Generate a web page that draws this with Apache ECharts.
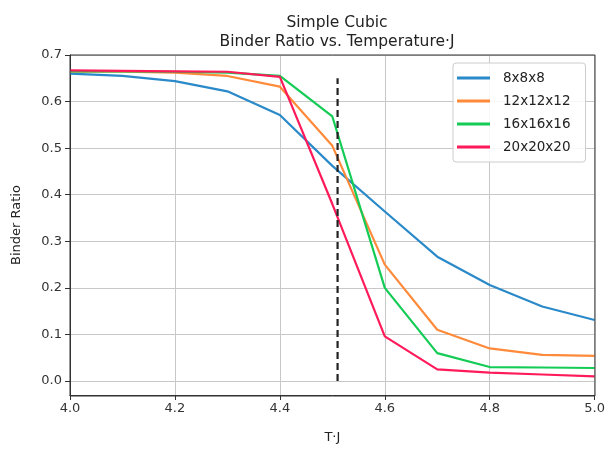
<!DOCTYPE html>
<html><head><meta charset="utf-8">
<script src="https://cdn.jsdelivr.net/npm/echarts@6/dist/echarts.min.js"></script>
<style>html,body{margin:0;padding:0;background:#fff}#c{width:608px;height:449px}</style>
</head><body><div id="c"></div>
<script>
const temps = [4.0, 4.1, 4.2, 4.3, 4.4, 4.5, 4.6, 4.7, 4.8, 4.9, 5.0];
const seriesNames = ['8x8x8', '12x12x12', '16x16x16', '20x20x20'];
const ratio8 = [0.660, 0.655, 0.644, 0.622, 0.571, 0.462, 0.364, 0.267, 0.206, 0.160, 0.131];
const ratio12 = [0.664, 0.664, 0.662, 0.655, 0.632, 0.505, 0.250, 0.110, 0.070, 0.056, 0.054];
const ratio16 = [0.665, 0.665, 0.664, 0.662, 0.655, 0.568, 0.200, 0.060, 0.030, 0.029, 0.028];
const ratio20 = [0.667, 0.666, 0.665, 0.664, 0.653, 0.380, 0.096, 0.025, 0.018, 0.014, 0.010];
const criticalT = 4.51;
const criticalRange = [0, 0.65];
const yTicks = [0, 0.1, 0.2, 0.3, 0.4, 0.5, 0.6, 0.7];
const xTicks = [4.0, 4.2, 4.4, 4.6, 4.8, 5.0];

const colors = ['#2a89c8', '#ff8a3a', '#14cc55', '#ff1a5a'];
const allRatios = [ratio8, ratio12, ratio16, ratio20];
const font = 'DejaVu Sans';

const series = allRatios.map((arr, i) => ({
  name: seriesNames[i], type: 'line', symbol: 'none', z: 3,
  data: temps.map((t, j) => [t, arr[j]]),
  lineStyle: {width: 2.2, color: colors[i]}, itemStyle: {color: colors[i]}
}));
series.push({
  name: 'Tc', type: 'line', symbol: 'none', z: 4,
  data: criticalRange.map(v => [criticalT, v]),
  lineStyle: {width: 2.2, color: '#222', type: [7, 4]}
});

const chart = echarts.init(document.getElementById('c'), null, {renderer: 'canvas'});
chart.setOption({
  animation: false,
  backgroundColor: '#fff',
  title: {
    text: 'Simple Cubic\nBinder Ratio vs. Temperature·J',
    left: 332, top: 8, textAlign: 'center',
    textStyle: {fontFamily: font, fontSize: 15.5, fontWeight: 'normal', color: '#222', lineHeight: 19}
  },
  legend: {
    data: seriesNames.map(n => ({name: n, icon: 'rect'})), orient: 'vertical', left: 453, top: 63,
    itemWidth: 33, itemHeight: 3, itemGap: 9,
    padding: [8, 15, 8, 4],
    borderColor: '#ccc', borderWidth: 1, borderRadius: 3,
    backgroundColor: 'rgba(255,255,255,0.85)',
    textStyle: {fontFamily: font, fontSize: 13.5, color: '#222', padding: [0, 0, 0, 8], height: 13}
  },
  grid: {left: 70, right: 13, top: 55, bottom: 53, show: false},
  xAxis: {
    type: 'value', min: 4.0, max: 5.0, interval: 0.2,
    name: 'T·J', nameLocation: 'middle', nameGap: 36,
    nameTextStyle: {fontFamily: font, fontSize: 13, color: '#222'},
    axisLine: {show: true, onZero: false, lineStyle: {color: '#333', width: 1}},
    axisTick: {show: true, length: 5, lineStyle: {color: '#333'}},
    axisLabel: {fontFamily: font, fontSize: 13, color: '#333', margin: 7, formatter: v => v.toFixed(1)},
    splitLine: {show: true, lineStyle: {color: '#c8c8c8', width: 1}}
  },
  yAxis: {
    type: 'value', min: -0.03, max: 0.7,
    name: 'Binder Ratio', nameLocation: 'middle', nameGap: 47, nameRotate: 90,
    nameTextStyle: {fontFamily: font, fontSize: 13, color: '#222'},
    axisLine: {show: true, onZero: false, lineStyle: {color: '#333', width: 1}},
    axisTick: {show: true, length: 5, lineStyle: {color: '#333'}, customValues: yTicks},
    axisLabel: {fontFamily: font, fontSize: 13, color: '#333', margin: 8, customValues: yTicks, formatter: v => v.toFixed(1)},
    splitLine: {show: true, lineStyle: {color: '#c8c8c8', width: 1}}
  },
  series: series
});
chart.setOption({
  graphic: [{
    type: 'rect', z: 10, silent: true,
    shape: {x: 70, y: 55, width: 608 - 13 - 70, height: 449 - 53 - 55},
    style: {fill: 'none', stroke: '#333', lineWidth: 1}
  }]
});
</script></body></html>
